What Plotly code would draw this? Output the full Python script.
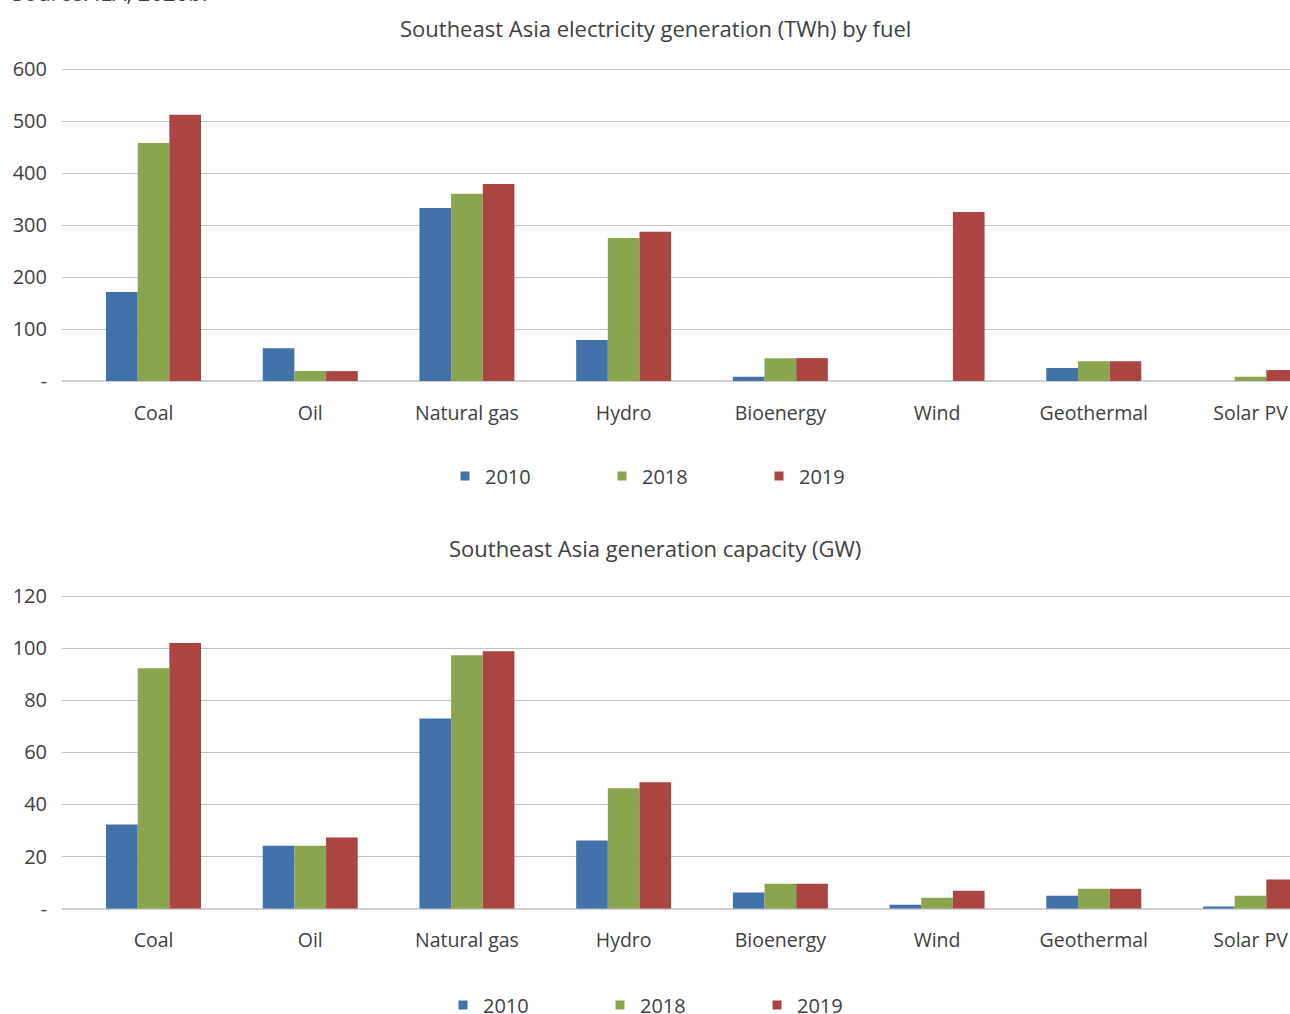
import plotly.graph_objects as go

categories = ["Coal", "Oil", "Natural gas", "Hydro", "Bioenergy", "Wind", "Geothermal", "Solar PV"]
years = ["2010", "2018", "2019"]

# Electricity generation (TWh)
gen_2010 = [171, 63, 333, 79, 8, 0, 25, 0]
gen_2018 = [458, 19, 360, 275, 44, 0, 38, 8]
gen_2019 = [512, 19, 379, 287, 44, 325, 38, 21]

# Generation capacity (GW)
cap_2010 = [32.3, 24.2, 73.0, 26.2, 6.2, 1.5, 5.0, 0.8]
cap_2018 = [92.3, 24.2, 97.3, 46.2, 9.6, 4.2, 7.7, 5.0]
cap_2019 = [102.0, 27.3, 98.8, 48.5, 9.6, 6.9, 7.7, 11.2]

gen_ticks = [0, 100, 200, 300, 400, 500, 600]
gen_ticklabels = ["-", "100", "200", "300", "400", "500", "600"]
cap_ticks = [0, 20, 40, 60, 80, 100, 120]
cap_ticklabels = ["-", "20", "40", "60", "80", "100", "120"]

colors = ["#4172A9", "#8AA54E", "#AB4542"]
TXT = "#404040"
FONT = "Open Sans"

W, H = 1290, 1014

fig = go.Figure()

gen_series = [gen_2010, gen_2018, gen_2019]
cap_series = [cap_2010, cap_2018, cap_2019]

for i, y in enumerate(years):
    fig.add_trace(go.Bar(x=categories, y=gen_series[i], name=y, marker_color=colors[i],
                         marker_line_width=0, xaxis="x", yaxis="y", showlegend=False))
for i, y in enumerate(years):
    fig.add_trace(go.Bar(x=categories, y=cap_series[i], name=y, marker_color=colors[i],
                         marker_line_width=0, xaxis="x2", yaxis="y2", showlegend=False))

# legend entries
for i, y in enumerate(years):
    fig.add_trace(go.Scatter(x=[None], y=[None], mode="markers", name=y,
                             marker=dict(symbol="square", size=9, color=colors[i]),
                             xaxis="x", yaxis="y", legend="legend"))
for i, y in enumerate(years):
    fig.add_trace(go.Scatter(x=[None], y=[None], mode="markers", name=y,
                             marker=dict(symbol="square", size=9, color=colors[i]),
                             xaxis="x2", yaxis="y2", legend="legend2"))

plot_left = 62
xr = [-0.584, 7.252]

def ydom(top_px, bot_px):
    return [1 - bot_px / H, 1 - top_px / H]

def px_x(px):
    return (px - plot_left) / (W - plot_left)

xaxis_common = dict(
    domain=[0, 1], range=xr, type="category", showgrid=False, zeroline=False,
    showline=False, ticks="", ticklabelstandoff=18, automargin=False,
    tickfont=dict(family=FONT, size=19.5, color=TXT), fixedrange=True,
)
yaxis_common = dict(
    showgrid=True, gridcolor="#C4C4C4", gridwidth=1, zeroline=True,
    zerolinecolor="#D0D0D0", zerolinewidth=2, showline=False, ticks="",
    automargin=False,
    ticklabelstandoff=14, tickfont=dict(family=FONT, size=20, color=TXT),
)

legend_common = dict(orientation="h", xanchor="left", yref="container", yanchor="middle",
                     entrywidth=112, entrywidthmode="pixels", borderwidth=0,
                     font=dict(family=FONT, size=20, color=TXT), bgcolor="rgba(0,0,0,0)")

fig.update_layout(
    width=W, height=H,
    margin=dict(l=plot_left, r=0, t=0, b=0, autoexpand=False),
    paper_bgcolor="white", plot_bgcolor="white",
    barmode="group", bargap=0.394, bargroupgap=0,
    font=dict(family=FONT, color=TXT),
    xaxis=dict(**xaxis_common, anchor="y"),
    xaxis2=dict(**xaxis_common, anchor="y2"),
    yaxis=dict(**yaxis_common, domain=ydom(67, 381), range=[0, 604],
               tickvals=gen_ticks, ticktext=gen_ticklabels),
    yaxis2=dict(**yaxis_common, domain=ydom(595, 908.7), range=[0, 120.4],
                tickvals=cap_ticks, ticktext=cap_ticklabels),
    legend=dict(**legend_common, x=px_x(445), y=1 - 476 / H),
    legend2=dict(**legend_common, x=px_x(443), y=1 - 1005 / H),
    annotations=[
        dict(text="Southeast Asia electricity generation (TWh) by fuel", xref="paper", yref="paper",
             x=px_x(655), y=1 - 28 / H, xanchor="center", yanchor="middle",
             showarrow=False, font=dict(family=FONT, size=22, color=TXT)),
        dict(text="Southeast Asia generation capacity (GW)", xref="paper", yref="paper",
             x=px_x(655), y=1 - 548 / H, xanchor="center", yanchor="middle",
             showarrow=False, font=dict(family=FONT, size=22, color=TXT)),
        dict(text="Source: IEA, 2020b.", xref="paper", yref="paper",
             x=px_x(10), y=1 - 9.5 / H, xanchor="left", yanchor="bottom",
             showarrow=False, font=dict(family=FONT, size=22, color=TXT)),
    ],
)

fig.write_html("out.html")
